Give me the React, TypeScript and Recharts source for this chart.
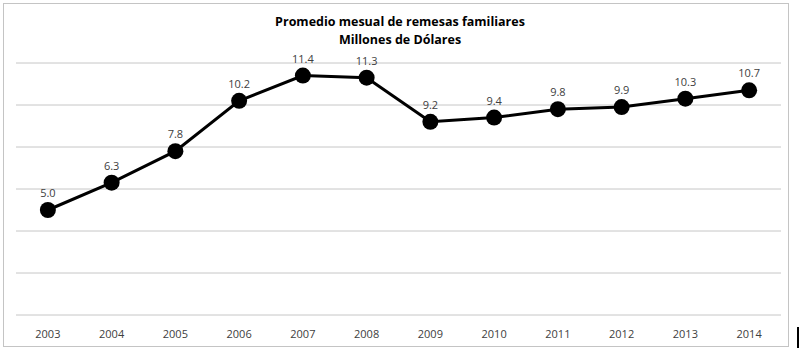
import React from 'react';
import { LineChart, Line, XAxis, YAxis, CartesianGrid, LabelList } from 'recharts';

const categories = ['2003', '2004', '2005', '2006', '2007', '2008', '2009', '2010', '2011', '2012', '2013', '2014'];
const values = [5.0, 6.3, 7.8, 10.2, 11.4, 11.3, 9.2, 9.4, 9.8, 9.9, 10.3, 10.7];
const yTicks = [0, 2, 4, 6, 8, 10, 12];
const boundaryTicks = [0, 1, 2, 3, 4, 5, 6, 7, 8, 9, 10, 11, 12];
const titleLines = ['Promedio mesual de remesas familiares', 'Millones de Dólares'];

const data = categories.map((year, i) => ({ year, value: values[i] }));

const FONT = '"Open Sans", sans-serif';

export default function App() {
  return (
    <div style={{ position: 'absolute', left: 0, top: 0, width: 800, height: 351, background: '#fff', fontFamily: FONT }}>
      <div style={{ position: 'absolute', left: 3, top: 3, width: 786, height: 344, border: '1px solid #c4c4c4', boxSizing: 'border-box' }} />
      <div style={{ position: 'absolute', left: 797, top: 327, width: 2, height: 21, background: '#000' }} />
      <div style={{ position: 'absolute', left: 0, top: 13, width: 800, textAlign: 'center', fontWeight: 700, fontSize: 12.5, lineHeight: '18px', color: '#000' }}>
        {titleLines.map((t) => (
          <div key={t}>{t}</div>
        ))}
      </div>
      <div style={{ position: 'absolute', left: 0, top: 0 }}>
        <LineChart width={800} height={351} data={data} margin={{ top: 63, right: 19, bottom: 6, left: 16 }}>
          <CartesianGrid vertical={false} stroke="#c6c6c6" strokeWidth={1} />
          <YAxis hide domain={[0, 12]} ticks={yTicks} type="number" />
          <XAxis
            xAxisId="bounds"
            type="number"
            domain={[0, 12]}
            ticks={boundaryTicks}
            height={0}
            tick={false}
            tickLine={{ stroke: '#909090' }}
            tickSize={4}
            axisLine={{ stroke: '#909090' }}
            allowDataOverflow
          />
          <XAxis
            xAxisId="cat"
            dataKey="year"
            scale="band"
            height={30}
            axisLine={false}
            tickLine={false}
            tickMargin={9}
            interval={0}
            tick={{ fill: '#404040', fontSize: 11, fontFamily: FONT }}
          />
          <Line
            xAxisId="cat"
            dataKey="value"
            stroke="#000"
            strokeWidth={3}
            dot={{ r: 8, fill: '#000', stroke: '#000', strokeWidth: 0 }}
            isAnimationActive={false}
          >
            <LabelList
              dataKey="value"
              position="top"
              offset={13}
              formatter={(v: any) => Number(v).toFixed(1)}
              style={{ fill: '#404040', fontSize: 11, fontFamily: FONT }}
            />
          </Line>
        </LineChart>
      </div>
    </div>
  );
}
